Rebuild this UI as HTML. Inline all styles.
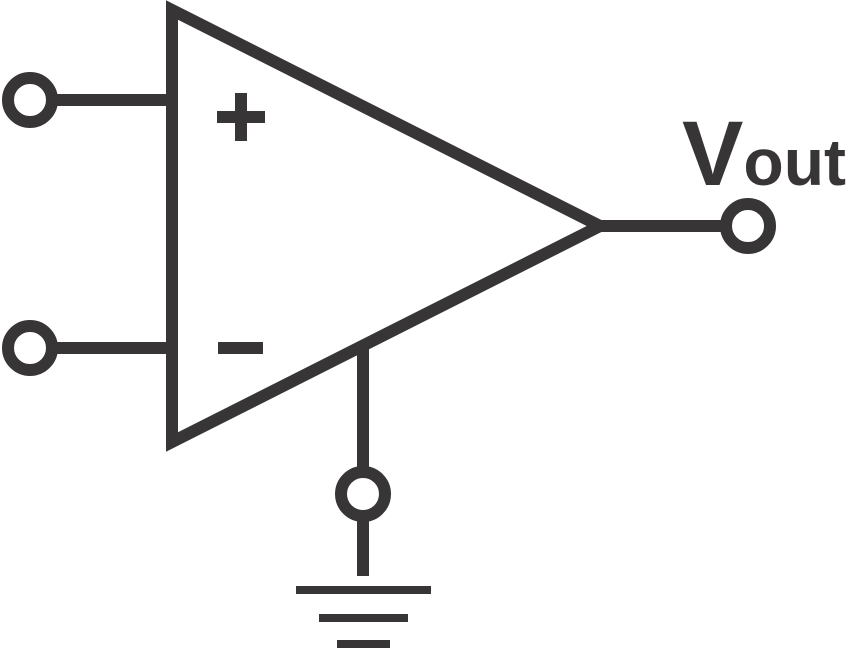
<!DOCTYPE html>
<html><head><meta charset="utf-8"><style>html,body{margin:0;padding:0;background:#fff}svg{display:block}</style></head>
<body>
<svg width="846" height="649" viewBox="0 0 846 649">
<g stroke="#373535" stroke-width="12" fill="none">
<polygon points="172,10 600,226 172,442" stroke-linejoin="miter" stroke-miterlimit="10"/>
<line x1="52" y1="100" x2="172" y2="100"/>
<circle cx="30" cy="100" r="22" fill="#fff"/>
<line x1="52" y1="348" x2="172" y2="348"/>
<circle cx="30" cy="348" r="22" fill="#fff"/>
<line x1="600" y1="226" x2="726" y2="226"/>
<circle cx="748" cy="226" r="22" fill="#fff"/>
<line x1="363" y1="344" x2="363" y2="472"/>
<circle cx="363" cy="494" r="22" fill="#fff"/>
<line x1="363" y1="516" x2="363" y2="576"/>
</g>
<g fill="#373535">
<rect x="217" y="111" width="48" height="12"/>
<rect x="235" y="93" width="12" height="48"/>
<rect x="218" y="342" width="45" height="12"/>
<rect x="296" y="586" width="135" height="8"/>
<rect x="319" y="614" width="89" height="8"/>
<rect x="337" y="640" width="53" height="8"/>
</g>
<text x="682" y="185" font-family="Liberation Sans, sans-serif" font-weight="bold" fill="#373535"><tspan font-size="92">V</tspan><tspan font-size="66" dx="0">out</tspan></text>
</svg>
</body></html>
